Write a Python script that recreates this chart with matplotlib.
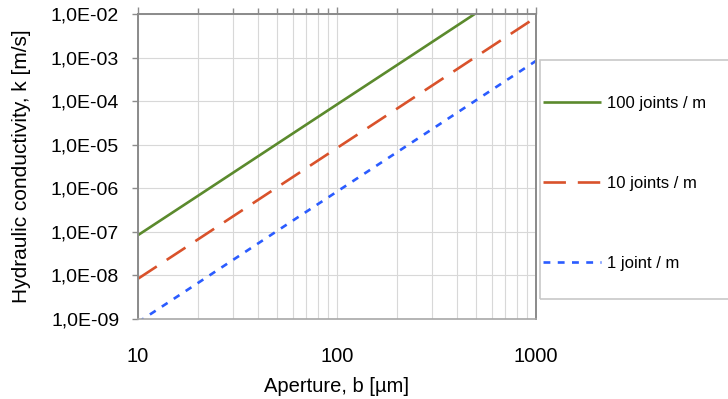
import matplotlib
matplotlib.use("Agg")
import matplotlib.pyplot as plt
from matplotlib.patches import Rectangle
from matplotlib.ticker import FixedLocator, LogLocator, NullFormatter

plt.rcParams['font.family'] = ['Liberation Sans', 'DejaVu Sans']

aperture = [10, 20, 50, 100, 200, 500, 1000]
k_100 = [8.4e-8, 6.7e-7, 1.05e-5, 8.4e-5, 6.7e-4, 1.05e-2, 8.4e-2]
k_10 = [8.4e-9, 6.7e-8, 1.05e-6, 8.4e-6, 6.7e-5, 1.05e-3, 8.4e-3]
k_1 = [8.4e-10, 6.7e-9, 1.05e-7, 8.4e-7, 6.7e-6, 1.05e-4, 8.4e-4]
labels = ["100 joints / m", "10 joints / m", "1 joint / m"]
y_ticks = [1e-9, 1e-8, 1e-7, 1e-6, 1e-5, 1e-4, 1e-3, 1e-2]
y_ticklabels = ["1,0E-09", "1,0E-08", "1,0E-07", "1,0E-06", "1,0E-05",
                "1,0E-04", "1,0E-03", "1,0E-02"]
x_ticks = [10, 100, 1000]
x_ticklabels = ["10", "100", "1000"]

fig = plt.figure(figsize=(7.28, 3.99), dpi=100)
ax = fig.add_axes([138/728, 1-319/399, (536-138)/728, (319-14)/399])

lw = 1.9
l1, = ax.plot(aperture, k_100, color='#5b8a2d', lw=lw, solid_capstyle='butt')
l2, = ax.plot(aperture, k_10, color='#d9522b', lw=lw, dashes=(8.5, 4.5))
l3, = ax.plot(aperture, k_1, color='#2b5cff', lw=lw, dashes=(2.6, 2.8))

ax.set_xscale('log')
ax.set_yscale('log')
ax.set_xlim(10, 1000)
ax.set_ylim(1e-9, 1e-2)

ax.xaxis.set_major_locator(FixedLocator(x_ticks))
ax.set_xticklabels(x_ticklabels)
ax.xaxis.set_minor_locator(LogLocator(base=10, subs=range(2, 10)))
ax.xaxis.set_minor_formatter(NullFormatter())
ax.yaxis.set_major_locator(FixedLocator(y_ticks))
ax.set_yticklabels(y_ticklabels)
ax.yaxis.set_minor_locator(FixedLocator([]))

ax.grid(True, which='major', color='#d8d8d8', lw=0.8)
ax.grid(True, which='minor', axis='x', color='#d8d8d8', lw=0.8)
ax.set_axisbelow(True)

ax.tick_params(axis='x', which='both', top=True, bottom=False, labeltop=False,
               labelbottom=True, direction='out', color='#8c8c8c', labelsize=14.5)
ax.tick_params(axis='x', which='major', length=5, width=1.0, pad=15)
ax.tick_params(axis='x', which='minor', length=4, width=1.0)
ax.tick_params(axis='y', which='major', left=True, right=False, direction='out',
               length=4.5, width=1.0, color='#8c8c8c', labelsize=14, pad=9)

for s in ['left', 'top', 'right']:
    ax.spines[s].set_color('#8a8a8a')
    ax.spines[s].set_linewidth(1.4)
ax.spines['bottom'].set_color('#a8a8a8')
ax.spines['bottom'].set_linewidth(1.2)

ax.set_xlabel("Aperture, b [µm]", fontsize=14.5, labelpad=8)
ax.set_ylabel("Hydraulic conductivity, k [m/s]", fontsize=15, labelpad=14)

fig.patches.append(Rectangle((540/728, 1-299/399), 0.5, (299-60)/399,
                             transform=fig.transFigure, fill=False,
                             edgecolor='#c8c8c8', lw=1.2))
leg = fig.legend([l1, l2, l3], labels, loc='upper left', frameon=False,
                 bbox_to_anchor=(543/728, 1-96/399), fontsize=12,
                 handlelength=3.5, handletextpad=0.35, labelspacing=3.9,
                 borderaxespad=0, borderpad=0)

fig.savefig("out.png", dpi=100)
